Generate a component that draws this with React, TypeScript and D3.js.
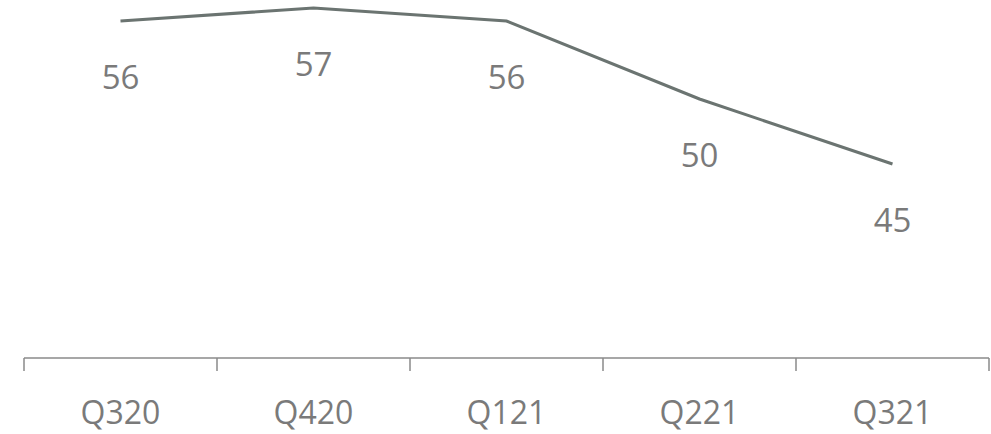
import { useEffect, useRef } from 'react';
import * as d3 from 'd3';

const quarters = ['Q320', 'Q420', 'Q121', 'Q221', 'Q321'];
const values = [56, 57, 56, 50, 45];

const App: React.FC = () => {
  const svgRef = useRef<SVGSVGElement | null>(null);

  useEffect(() => {
    if (svgRef.current === null) return;
    const width = 991;
    const height = 434;
    const axisY = 358;

    const svg = d3.select(svgRef.current).attr('width', width).attr('height', height);
    svg.selectAll('*').remove();

    const x = d3.scaleBand<string>().domain(quarters).range([24, 989]).padding(0);
    const y = d3.scaleLinear().domain([45, 57]).range([164, 8]);

    const data = quarters.map((q, i) => ({ q, v: values[i] }));

    // axis line + ticks
    const axisG = svg.append('g').attr('transform', `translate(0, ${axisY})`);
    axisG
      .append('line')
      .attr('x1', x.range()[0])
      .attr('x2', x.range()[1])
      .attr('stroke', '#8a8a8a')
      .attr('stroke-width', 1.5);
    const edges = quarters.map((q) => x(q)!).concat([x.range()[1]]);
    axisG
      .selectAll('.tick')
      .data(edges)
      .enter()
      .append('line')
      .attr('x1', (d) => d)
      .attr('x2', (d) => d)
      .attr('y1', 0)
      .attr('y2', 13)
      .attr('stroke', '#8a8a8a')
      .attr('stroke-width', 1.5);
    axisG
      .selectAll('.tick-label')
      .data(quarters)
      .enter()
      .append('text')
      .attr('x', (d) => x(d)! + x.bandwidth() / 2)
      .attr('y', 66)
      .attr('text-anchor', 'middle')
      .attr('fill', '#7a7a7a')
      .style('font-family', '"Open Sans", "Noto Sans", sans-serif')
      .style('font-size', '32px')
      .text((d) => d);

    // line
    const line = d3
      .line<{ q: string; v: number }>()
      .x((d) => x(d.q)! + x.bandwidth() / 2)
      .y((d) => y(d.v));
    svg
      .append('path')
      .datum(data)
      .attr('d', line)
      .attr('fill', 'none')
      .attr('stroke', '#6b7471')
      .attr('stroke-width', 3);

    // value labels
    svg
      .selectAll('.val')
      .data(data)
      .enter()
      .append('text')
      .attr('x', (d) => x(d.q)! + x.bandwidth() / 2)
      .attr('y', (d) => y(d.v) + 68)
      .attr('text-anchor', 'middle')
      .attr('fill', '#7a7a7a')
      .style('font-family', '"Open Sans", "Noto Sans", sans-serif')
      .style('font-size', '33px')
      .text((d) => d.v);
  }, []);

  return <svg ref={svgRef} style={{ position: 'absolute', left: 0, top: 0 }}></svg>;
};

export default App;
